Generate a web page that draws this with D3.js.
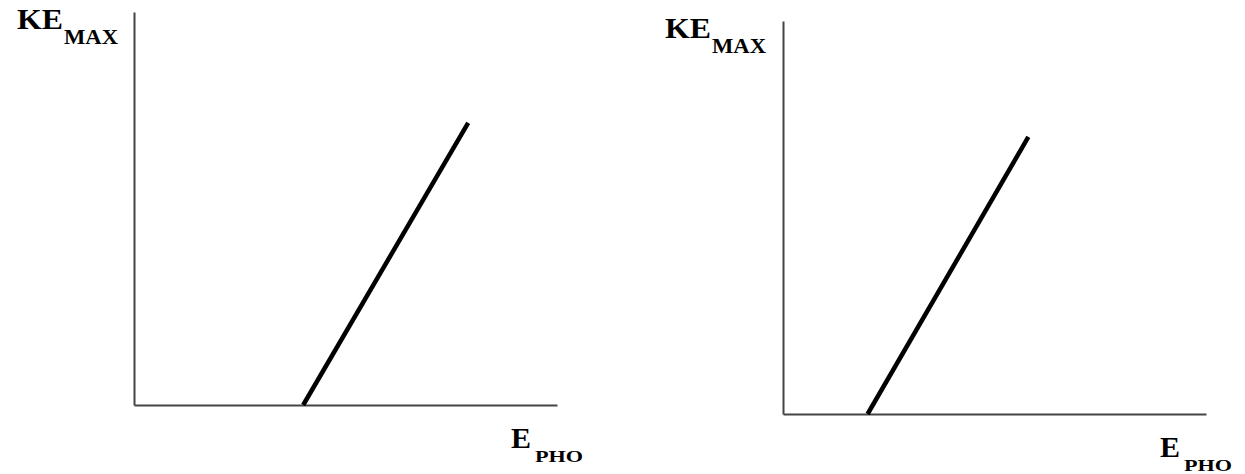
<!DOCTYPE html>
<html><head><meta charset="utf-8">
<script src="https://cdn.jsdelivr.net/npm/d3@7"></script>
<style>html,body{margin:0;padding:0;background:#fff;}svg{display:block;}
.lbl{font-family:"Liberation Serif","DejaVu Serif",serif;font-weight:bold;}</style>
</head><body>
<svg id="c" width="1245" height="474"></svg>
<script>
// Data (arbitrary units, domain 0..10)
const panels = ["left", "right"];
const leftLine = [{x: 4.0, y: 0}, {x: 7.9, y: 7.18}];
const rightLine = [{x: 2.0, y: 0}, {x: 5.8, y: 7.05}];
const yLabel = ["KE", "MAX"];
const xLabel = ["E", "PHO"];

const svg = d3.select("#c");
const layouts = [
  {data: leftLine, x0: 134, x1: 557, y0: 405, y1: 12, yl: [17, 29], xl: [511, 448]},
  {data: rightLine, x0: 783, x1: 1206, y0: 414, y1: 21, yl: [665, 38], xl: [1160, 457]}
];
layouts.forEach(L => {
  const x = d3.scaleLinear().domain([0, 10]).range([L.x0, L.x1]);
  const y = d3.scaleLinear().domain([0, 10]).range([L.y0, L.y1]);
  const g = svg.append("g");
  const ax = g.append("g").attr("transform", `translate(0,${L.y0})`)
    .call(d3.axisBottom(x).ticks(0).tickSizeOuter(0));
  const ay = g.append("g").attr("transform", `translate(${L.x0},0)`)
    .call(d3.axisLeft(y).ticks(0).tickSizeOuter(0));
  [ax, ay].forEach(a => a.select(".domain").attr("stroke", "#444").attr("stroke-width", 2));
  g.append("path").datum(L.data)
    .attr("d", d3.line().x(d => x(d.x)).y(d => y(d.y)))
    .attr("stroke", "#000").attr("stroke-width", 4.5).attr("fill", "none");
  const t1 = g.append("text").attr("class", "lbl").attr("x", L.yl[0]).attr("y", L.yl[1])
    .attr("font-size", 30).attr("textLength", 46).attr("lengthAdjust", "spacingAndGlyphs");
  t1.append("tspan").text(yLabel[0]);
  const t1b = g.append("text").attr("class", "lbl").attr("x", L.yl[0] + 47).attr("y", L.yl[1] + 15)
    .attr("font-size", 22).attr("textLength", 54).attr("lengthAdjust", "spacingAndGlyphs").text(yLabel[1]);
  const t2 = g.append("text").attr("class", "lbl").attr("x", L.xl[0]).attr("y", L.xl[1])
    .attr("font-size", 30);
  t2.append("tspan").text(xLabel[0]);
  t2.append("tspan").attr("dx", 4).attr("dy", 14).attr("font-size", 16).attr("textLength", 48).attr("lengthAdjust", "spacingAndGlyphs").text(xLabel[1]);
});
</script>
</body></html>
